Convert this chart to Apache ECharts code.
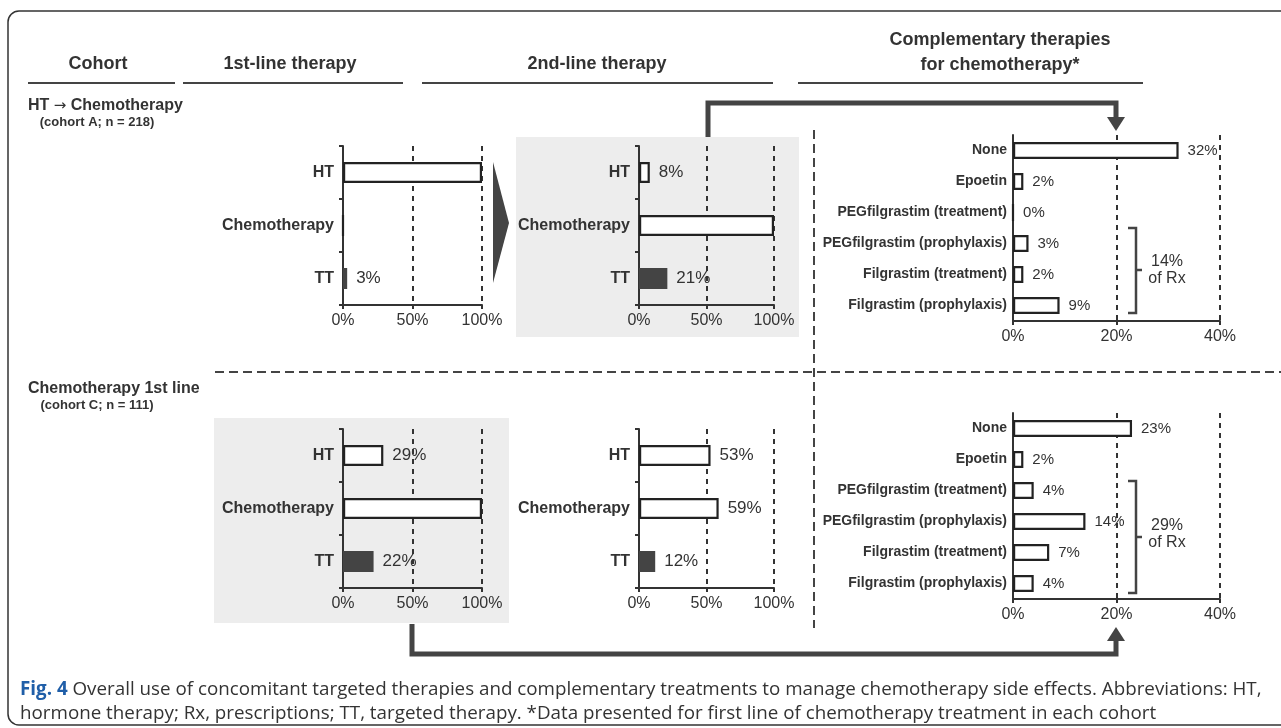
<!DOCTYPE html>
<html><head><meta charset="utf-8">
<script src="https://cdn.jsdelivr.net/npm/echarts@6/dist/echarts.min.js"></script>
<style>html,body{margin:0;padding:0;background:#fff}#c{width:1281px;height:728px}</style>
</head><body><div id="c"></div>
<script>
// ---- data ----
const lineCats = ['HT', 'Chemotherapy', 'TT'];
const compCats = ['None', 'Epoetin', 'PEGfilgrastim (treatment)', 'PEGfilgrastim (prophylaxis)', 'Filgrastim (treatment)', 'Filgrastim (prophylaxis)'];
const topFirstVals = [100, 0, 3];
const topFirstLabels = ['', '', '3%'];
const topSecondVals = [8, 100, 21];
const topSecondLabels = ['8%', '', '21%'];
const topCompVals = [32, 2, 0, 3, 2, 9];
const topCompLabels = ['32%', '2%', '0%', '3%', '2%', '9%'];
const botFirstVals = [29, 100, 22];
const botFirstLabels = ['29%', '', '22%'];
const botSecondVals = [53, 59, 12];
const botSecondLabels = ['53%', '59%', '12%'];
const botCompVals = [23, 2, 4, 14, 7, 4];
const botCompLabels = ['23%', '2%', '4%', '14%', '7%', '4%'];
const headers = ['Cohort', '1st-line therapy', '2nd-line therapy', 'Complementary therapies', 'for chemotherapy*'];
const cohortTop = ['HT ', '\u2192', ' Chemotherapy', '(cohort A; n = 218)'];
const cohortBot = ['Chemotherapy 1st line', '(cohort C; n = 111)'];
const bracketTop = ['14%', 'of Rx'];
const bracketBot = ['29%', 'of Rx'];
const captionBold = 'Fig. 4';
const captionLine1 = ' Overall use of concomitant targeted therapies and complementary treatments to manage chemotherapy side effects. Abbreviations: HT,';
const captionLine2 = 'hormone therapy; Rx, prescriptions; TT, targeted therapy. *Data presented for first line of chemotherapy treatment in each cohort';

// ---- styling ----
const FONT = '"Liberation Sans", Arial, sans-serif';
const DARK = '#333';
const BARDARK = '#444';
const grids = [
  {left: 343, top: 146, width: 139, height: 159},
  {left: 639, top: 146, width: 135, height: 159},
  {left: 1013, top: 135, width: 207, height: 186},
  {left: 343, top: 429, width: 139, height: 159},
  {left: 639, top: 429, width: 135, height: 159},
  {left: 1013, top: 413, width: 207, height: 186}
];
const panels = [
  {cats: lineCats, vals: topFirstVals, labels: topFirstLabels, max: 100, interval: 50, bw: 21},
  {cats: lineCats, vals: topSecondVals, labels: topSecondLabels, max: 100, interval: 50, bw: 21},
  {cats: compCats, vals: topCompVals, labels: topCompLabels, max: 40, interval: 20, bw: 17},
  {cats: lineCats, vals: botFirstVals, labels: botFirstLabels, max: 100, interval: 50, bw: 21},
  {cats: lineCats, vals: botSecondVals, labels: botSecondLabels, max: 100, interval: 50, bw: 21},
  {cats: compCats, vals: botCompVals, labels: botCompLabels, max: 40, interval: 20, bw: 17}
];

const xAxes = [], yAxes = [], series = [];
panels.forEach((p, i) => {
  const comp = p.cats.length > 3;
  xAxes.push({
    gridIndex: i, type: 'value', min: 0, max: p.max, interval: p.interval,
    axisLine: {show: true, lineStyle: {color: DARK, width: 2}},
    axisTick: {show: true, length: 4, lineStyle: {color: DARK, width: 2}},
    axisLabel: {formatter: v => v + '%', color: DARK, fontSize: 16, fontFamily: FONT, margin: 8},
    splitLine: {show: true, lineStyle: {color: DARK, width: 2, type: [5, 5]}}
  });
  yAxes.push({
    gridIndex: i, type: 'category', data: p.cats, inverse: true,
    axisLine: {show: true, lineStyle: {color: DARK, width: 2}},
    axisTick: {show: !comp, length: 4, lineStyle: {color: DARK, width: 2}},
    axisLabel: {color: DARK, fontSize: comp ? 14 : 16, fontWeight: 'bold', fontFamily: FONT, margin: comp ? 6 : 9}
  });
  series.push({
    type: 'bar', xAxisIndex: i, yAxisIndex: i, barWidth: p.bw,
    data: p.vals.map((v, k) => ({
      value: v,
      itemStyle: p.cats[k] === 'TT'
        ? {color: BARDARK, borderColor: BARDARK, borderWidth: 0}
        : {color: '#fff', borderColor: '#222', borderWidth: 2.2}
    })),
    label: {show: true, position: 'right', distance: 9, color: DARK, fontSize: comp ? 15 : 17, fontFamily: FONT,
      formatter: q => p.labels[q.dataIndex]},
    z: 3
  });
});

function txt(text, x, y, size, weight, align, color) {
  return {type: 'text', z: 50, style: {text: text, x: x, y: y, fill: color || DARK,
    font: (weight || 'normal') + ' ' + size + 'px ' + FONT,
    align: align || 'center', verticalAlign: 'middle', textAlign: align || 'center', textVerticalAlign: 'middle'}};
}
function line(pts, w, dash) {
  return {type: 'polyline', z: 40, shape: {points: pts},
    style: {stroke: BARDARK, lineWidth: w, fill: null, lineDash: dash || null, lineJoin: 'miter'}};
}
function tri(pts) {
  return {type: 'polygon', z: 41, shape: {points: pts}, style: {fill: BARDARK}};
}

const graphics = [
  // outer border
  {type: 'rect', z: -20, shape: {x: 8, y: 11, width: 1300, height: 714, r: 11}, style: {fill: '#fff', stroke: '#333', lineWidth: 1.5}},
  // grey boxes
  {type: 'rect', z: -10, shape: {x: 516, y: 137, width: 283, height: 200}, style: {fill: '#ededed'}},
  {type: 'rect', z: -10, shape: {x: 214, y: 418, width: 295, height: 205}, style: {fill: '#ededed'}},
  // headers
  txt(headers[0], 98, 64, 18, 'bold'),
  txt(headers[1], 290, 64, 18, 'bold'),
  txt(headers[2], 597, 64, 18, 'bold'),
  txt(headers[3], 1000, 40, 18, 'bold'),
  txt(headers[4], 1000, 65, 18, 'bold'),
  line([[28, 83], [175, 83]], 2),
  line([[183, 83], [403, 83]], 2),
  line([[422, 83], [773, 83]], 2),
  line([[798, 83], [1143, 83]], 2),
  // cohort labels
  {type: 'text', z: 50, style: {
    text: cohortTop[0] + '{a|' + cohortTop[1] + '}' + cohortTop[2], x: 28, y: 106,
    font: 'bold 16px ' + FONT, fill: DARK, align: 'left', verticalAlign: 'middle', textAlign: 'left', textVerticalAlign: 'middle',
    rich: {a: {fontFamily: '"DejaVu Sans", sans-serif', fontSize: 15, fontWeight: 'normal', fill: DARK, color: DARK}}
  }},
  txt(cohortTop[3], 97, 122, 13, 'bold'),
  txt(cohortBot[0], 28, 389, 16, 'bold', 'left'),
  txt(cohortBot[1], 97, 405, 13, 'bold'),
  // transition triangle
  tri([[493, 162], [509, 223], [493, 283]]),
  // dashed separators
  line([[814, 130], [814, 628]], 2, [9, 5]),
  line([[215, 372], [1281, 372]], 2, [9, 5]),
  // top arrow
  line([[708, 137], [708, 103], [1116, 103], [1116, 120]], 5),
  tri([[1107, 117], [1125, 117], [1116, 131]]),
  // bottom arrow
  line([[412, 624], [412, 654], [1116, 654], [1116, 638]], 5),
  tri([[1107, 641], [1125, 641], [1116, 627]]),
  // brackets
  line([[1128, 228], [1136, 228], [1136, 313], [1128, 313]], 2.5),
  line([[1136, 270], [1142, 270]], 2.5),
  txt(bracketTop[0], 1167, 262, 16, 'normal'),
  txt(bracketTop[1], 1167, 279, 16, 'normal'),
  line([[1128, 481], [1136, 481], [1136, 593], [1128, 593]], 2.5),
  line([[1136, 537], [1142, 537]], 2.5),
  txt(bracketBot[0], 1167, 526, 16, 'normal'),
  txt(bracketBot[1], 1167, 543, 16, 'normal'),
  // caption
  {type: 'text', z: 50, style: {
    text: '{b|' + captionBold + '}' + captionLine1, x: 20, y: 690,
    font: '18.8px "Open Sans", sans-serif', fill: '#333', align: 'left', verticalAlign: 'middle', textAlign: 'left', textVerticalAlign: 'middle',
    rich: {b: {fontWeight: 'bold', fill: '#1f5ea8', color: '#1f5ea8', fontSize: 18.8, fontFamily: '"Open Sans", sans-serif'}}
  }},
  {type: 'text', z: 50, style: {
    text: captionLine2, x: 20, y: 714,
    font: '18.8px "Open Sans", sans-serif', fill: '#333', align: 'left', verticalAlign: 'middle', textAlign: 'left', textVerticalAlign: 'middle'
  }}
];

const chart = echarts.init(document.getElementById('c'), null, {renderer: 'canvas'});
chart.setOption({
  animation: false,
  backgroundColor: '#fff',
  grid: grids.map(g => Object.assign({containLabel: false}, g)),
  xAxis: xAxes,
  yAxis: yAxes,
  series: series,
  graphic: {elements: graphics}
});
</script></body></html>
